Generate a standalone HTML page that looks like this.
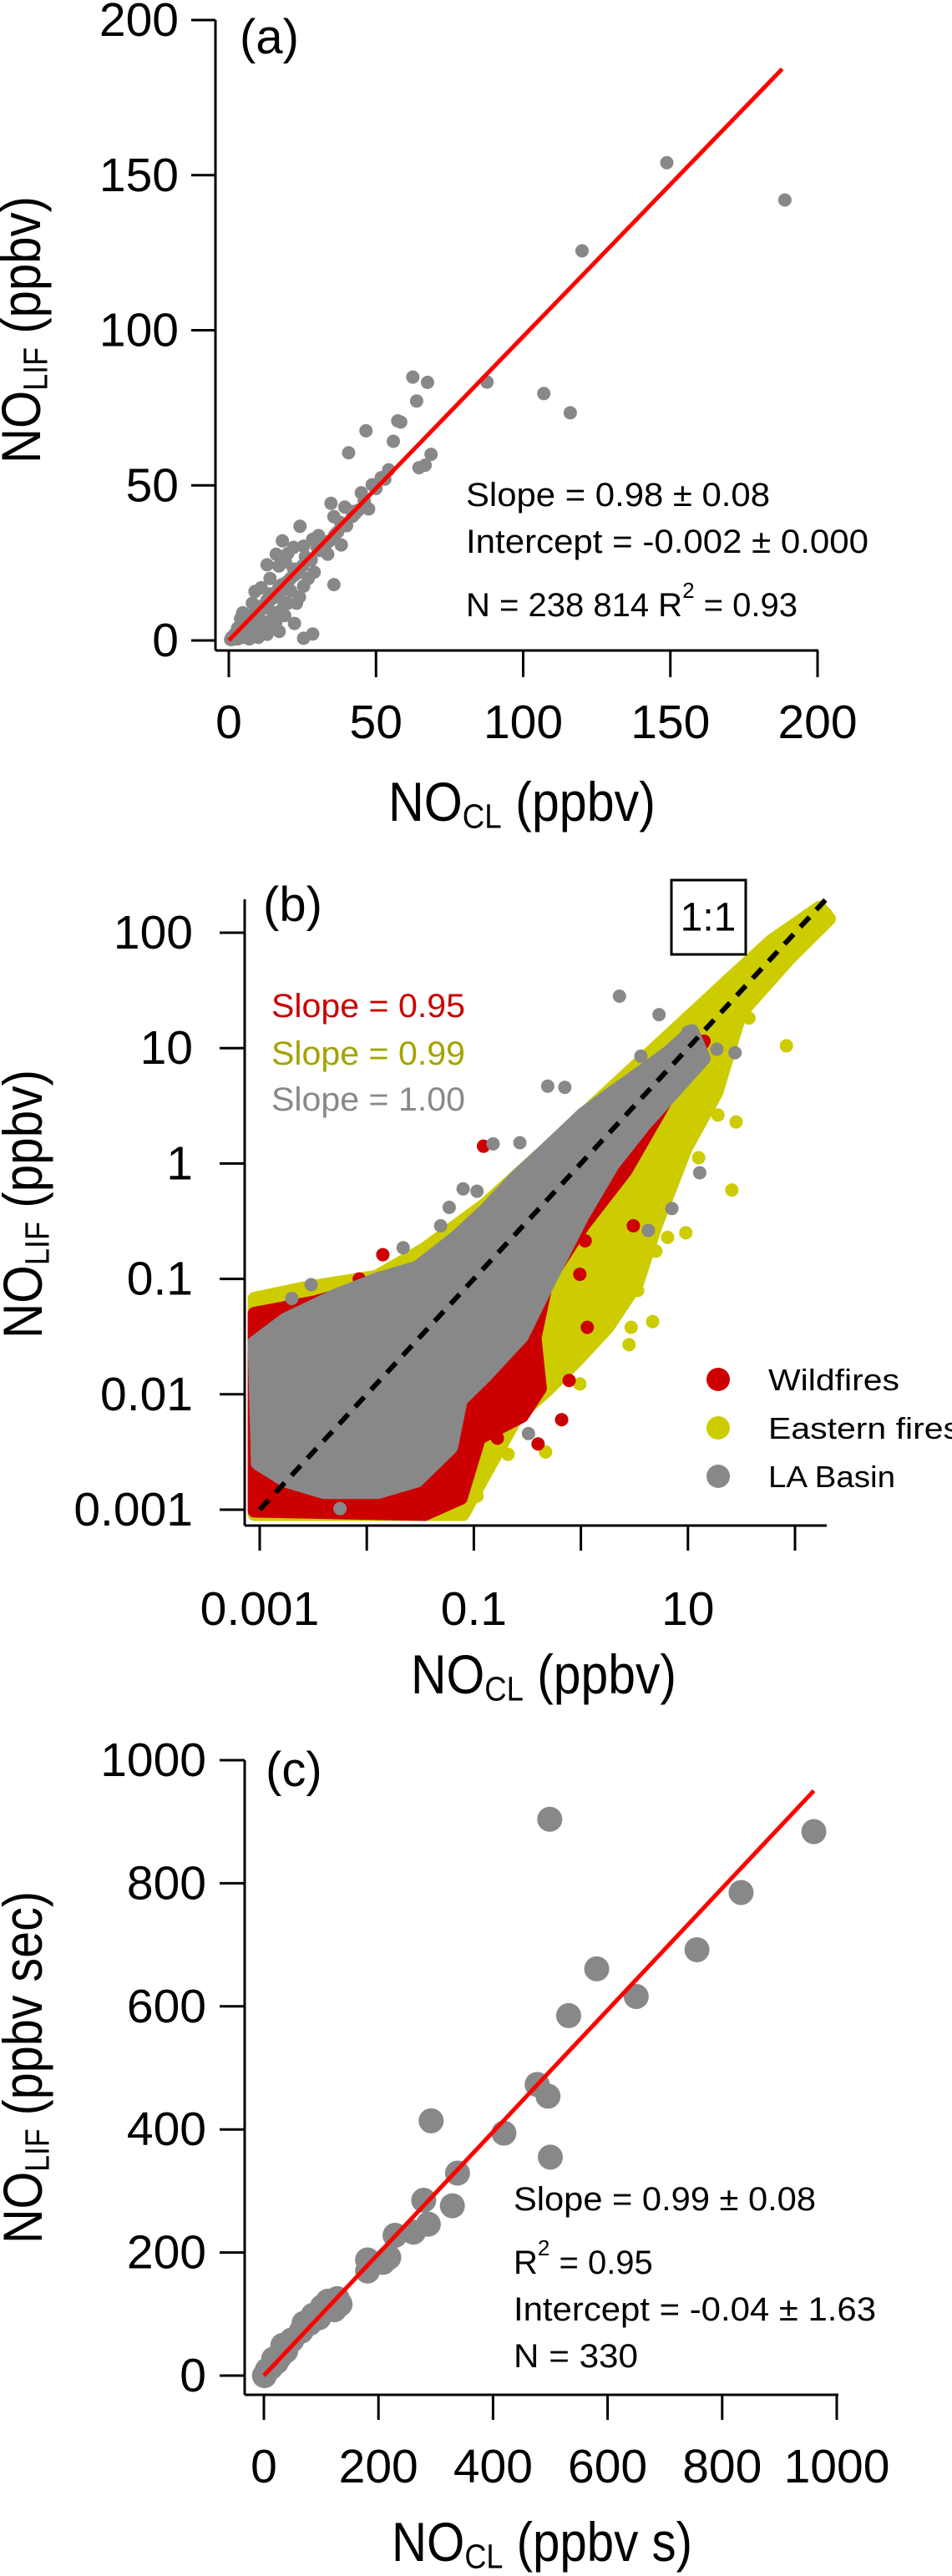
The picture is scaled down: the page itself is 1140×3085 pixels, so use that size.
<!DOCTYPE html>
<html><head><meta charset="utf-8"><style>
html,body{margin:0;padding:0;background:#fff}
svg{display:block}
text{font-family:"Liberation Sans",sans-serif;fill:#000}
</style></head><body>
<svg id="fig" width="1140" height="3085" viewBox="0 0 1140 3085" xmlns="http://www.w3.org/2000/svg"></svg>
<script>
// ---------- Panel (a) data ----------
const aTicks = [0, 50, 100, 150, 200];
const aX = [148.8,188.9,120,87.7,107,116,62.5,67.5,63.8,57.4,58.4,55.9,46.6,40.7,68.7,64.6,66.7,54.3,51.8,48.7,45,47.5,34.7,35.7,39.4,42,24.2,18.2,35.7,38.2,33.6,25.4,28.5,30.5,16.1,13,19.2,22.3,25.4,17.1,22.3,17.1,25.4,28.5,8.9,4.7,10.9,6.8,2.7,0.6,2,3,5,6,8,10,12,14,16,18,20,22,24,26,28,30,32,6,9,12,15,19,4,8,11,14,17,20,22,13,10,7,5,3,27,29,36,38,42,44,24,19,16,1,1.5,3.5,9,11,21,23,
 1,2,3,4,5,6,7,8,9,10,11,12,13,14,15,16,17,18,19,20,21,23,25,27,2,4,6,8,10,12,14,16,18,20,3,5,7,9,11,13,15,17,1,3,5,7,9,11,13,15,31,33,34,37,40,43,46,50,53];
const aY = [154,142,125.6,83.3,79.6,73.4,84.9,83.2,77.2,70.8,70.4,64.2,67.6,60.5,60,55.7,56.5,55,52.5,50.2,47.6,42.4,44.2,39.9,43,41.6,36.8,32.1,18,30.8,27.8,30.4,32.6,33.8,27.8,24.4,25.3,21,17.5,14.1,5.5,2.9,0.7,2.1,15.8,8.9,10.7,3.8,1.2,0.3,2,4,5,8,7,10,11,15,14,18,19,23,22,27,26,30,31,3,5,6,9,12,7,12,17,20,24,28,30,2,1,0.5,1,0.5,20,22,34,38,40,42,14,8,6,1,0.5,2,9,4,16,12,
 0.5,1.5,2.5,3,4,5,6,7,8,9,10,11,12,13,14,15,16,17,18,19,20,22,24,26,0.5,1,2,3,4,5,6,8,10,12,3,5,7,9,11,13,15,17,0.3,1,1.5,2,2.5,3,4,5,29,31,32,35,37,41,45,49,52];
const aFit = {slope:0.98, x0:0, x1:188};
// ---------- Panel (b) data (log10 of ppbv) ----------
const bTicksY = [100,10,1,0.1,0.01,0.001];
const bTicksX = [0.001,0.01,0.1,1,10,100];
const bTickLabelsX = ["0.001","","0.1","","10",""];
const yellowCloudLX=[-3.05,-2.59,-1.91,-1.46,-0.89,-0.32,0.25,0.81,1.38,1.78,2.23,2.32,1.95,1.49,1.27,0.98,0.70,0.53,0.25,-0.04,-0.3,-0.6,-0.9,-1.1,-3.05];
const yellowCloudLY=[-1.17,-1.08,-0.98,-0.74,-0.35,0.13,0.62,1.10,1.59,1.93,2.22,2.12,1.78,1.30,0.62,0.13,-0.54,-1.03,-1.42,-1.71,-1.95,-2.2,-2.7,-3.04,-3.04];
const redCloudLX=[-3.05,-3.05,-1.46,-1.12,-0.95,-0.55,-0.38,-0.43,-0.32,0.02,0.42,0.81,1.15,0.93,0.53,-0.04,-1.46,-2.48];
const redCloudLY=[-1.3,-3.01,-3.04,-2.9,-2.38,-2.19,-1.95,-1.51,-1.03,-0.54,-0.06,0.57,1.06,1.01,0.72,0.13,-0.93,-1.2];
const grayCloudLX=[-3.05,-2.76,-2.31,-1.9,-1.53,-1.17,-0.89,-0.60,-0.32,0.02,0.30,0.59,0.81,1.04,1.15,0.87,0.59,0.30,0.02,-0.3,-0.55,-0.9,-1.12,-1.21,-1.53,-1.9,-2.4,-2.76,-3.02];
const grayCloudLY=[-1.55,-1.35,-1.15,-1.0,-0.9,-0.64,-0.40,-0.11,0.13,0.43,0.62,0.81,0.96,1.15,0.91,0.62,0.33,-0.01,-0.45,-1.03,-1.5,-1.85,-2.05,-2.46,-2.75,-2.85,-2.85,-2.75,-2.6];
const yellowLX=[1.92,1.41,1.45,1.28,1.07,1.10,0.98,0.81,0.70,0.53,0.67,0.47,0.45,-0.01,-0.33,-0.68,-0.97,-2.98,-2.80,1.57,1.81,2.12,2.29];
const yellowLY=[1.02,-0.23,0.36,0.42,0.33,0.05,-0.60,-0.64,-0.76,-1.10,-1.37,-1.42,-1.57,-1.91,-2.50,-2.52,-2.88,-1.19,-1.14,1.26,1.92,2.15,2.16];
const redLX=[-0.91,-1.85,-2.07,0.49,0.06,-0.11,-0.18,-0.40,-0.78,-1.12,-0.01,0.04];
const redLY=[0.15,-0.79,-1.00,-0.54,-1.42,-1.88,-2.22,-2.43,-2.38,-2.81,-0.96,-0.67];
const grayLX=[0.36,0.73,-0.31,-0.15,-0.82,-0.57,-1.10,-0.97,-1.23,-1.31,-1.66,-2.52,-2.70,1.11,0.85,0.63,1.44,0.56,-0.49,-2.25,1.0,1.27];
const grayLY=[1.45,1.29,0.67,0.66,0.17,0.18,-0.22,-0.24,-0.38,-0.54,-0.73,-1.05,-1.17,-0.08,-0.39,-0.58,0.96,0.93,-2.34,-2.99,1.14,0.99];
const bOneToOne=[0.001,200];
// ---------- Panel (c) data ----------
const cTicks=[0,200,400,600,800,1000];
const cX=[499,960,833,756,581,650,532,477,496,419,500,292,338,329,279,287,261,229,218,181,208,181,128,112,102,86,70,49,33,17,6,1,133,96,65,38,22,12,123,80,28];
const cY=[904,884,785,692,661,616,585,473,454,394,355,414,329,276,285,246,233,228,192,188,184,170,125,121,112,98,85,58,49,27,9,0,116,94,72,40,22,13,107,85,31];
const cFit={slope:0.99, x0:0, x1:960};

const NS="http://www.w3.org/2000/svg";
const svg=document.getElementById('fig');
function mk(tag,attrs,parent){const e=document.createElementNS(NS,tag);for(const k in attrs)e.setAttribute(k,attrs[k]);(parent||svg).appendChild(e);return e;}
function txt(s,x,y,size,attrs,parent){const t=mk('text',Object.assign({x:x,y:y,'font-size':size},attrs||{}),parent);t.textContent=s;return t;}
function axisTitle(x,y,main,sub,rest,size,rot,len,parent){
  const t=mk('text',{x:x,y:y,'font-size':size,'text-anchor':'middle','dominant-baseline':'middle',transform:rot?`rotate(-90 ${x} ${y})`:'',textLength:len,lengthAdjust:'spacingAndGlyphs'},parent);
  const a=mk('tspan',{},t);a.textContent=main;
  const b=mk('tspan',{'font-size':size*0.62,dy:size*0.22},t);b.textContent=sub;
  const c=mk('tspan',{dy:-size*0.22},t);c.textContent=rest;
  return t;
}

// ================= Panel A =================
const gA=mk('g',{});

const axA={x0:274,x1:979,y0:767,y1:24};
const sxA=v=>axA.x0+(v-0)/200*(axA.x1-axA.x0);
const syA=v=>axA.y0+(v-0)/200*(axA.y1-axA.y0);
const ptsA=mk('g',{fill:'#888888'},gA);
for(let i=0;i<aX.length;i++){const c=mk('circle',{cx:sxA(aX[i]),cy:syA(aY[i]),r:8},ptsA);

}
const fa=mk('line',{x1:sxA(aFit.x0),y1:syA(aFit.x0*aFit.slope),x2:sxA(aFit.x1),y2:syA(aFit.x1*aFit.slope),stroke:'#ff0000','stroke-width':5},gA);

let ya=mk('line',{x1:258,y1:24,x2:258,y2:779,stroke:'#000','stroke-width':3},gA);
let xa=mk('line',{x1:258,y1:779,x2:980,y2:779,stroke:'#000','stroke-width':3},gA);
aTicks.forEach(v=>{
  mk('line',{x1:229,y1:syA(v),x2:258,y2:syA(v),stroke:'#000','stroke-width':3},gA);
  const ty=txt(String(v),214,syA(v),57,{'text-anchor':'end','dominant-baseline':'central'},gA);
  
  mk('line',{x1:sxA(v),y1:779,x2:sxA(v),y2:811,stroke:'#000','stroke-width':3},gA);
  const tx=txt(String(v),sxA(v),865,57,{'text-anchor':'middle','dominant-baseline':'central'},gA);
  
});
let la=txt('(a)',287,64,58,{},gA);
let s1=txt('Slope = 0.98 ± 0.08',558,606,40,{textLength:364,lengthAdjust:'spacingAndGlyphs'},gA);
let s2=txt('Intercept = -0.002 ± 0.000',558,662,40,{textLength:482,lengthAdjust:'spacingAndGlyphs'},gA);
let s3=mk('text',{x:558,y:738,'font-size':40},gA);
s3.innerHTML='N =  238 814  R<tspan font-size="26" dy="-22">2</tspan><tspan dy="22"> = 0.93</tspan>';
let xta=axisTitle(625,966,'NO','CL',' (ppbv)',66,false,320,gA);
let yta=axisTitle(31,395,'NO','LIF',' (ppbv)',66,true,320,gA);

// ================= Panel B =================
const gB=mk('g',{});

const sxB=v=>311+(Math.log10(v)+3)*128.2;
const syB=v=>1808-(Math.log10(v)+3)*138.2;
const lxB=l=>sxB(Math.pow(10,l));
const lyB=l=>syB(Math.pow(10,l));
function cloud(LX,LY,col,name){
  const p=LX.map((l,i)=>lxB(l)+','+lyB(LY[i])).join(' ');
  const e=mk('polygon',{points:p,fill:col,stroke:col,'stroke-width':16,'stroke-linejoin':'round'},gB);
  
  
}
function dots(LX,LY,col,name){
  const g=mk('g',{fill:col},gB);
  
  
  for(let i=0;i<LX.length;i++){const c=mk('circle',{cx:lxB(LX[i]),cy:lyB(LY[i]),r:8},g);
  
  }
}
cloud(yellowCloudLX,yellowCloudLY,'#cccc00','eastern-fires-cloud');
dots(yellowLX,yellowLY,'#cccc00','eastern-fires-points');
cloud(redCloudLX,redCloudLY,'#cc0000','wildfires-cloud');
dots(redLX,redLY,'#cc0000','wildfires-points');
cloud(grayCloudLX,grayCloudLY,'#888888','la-basin-cloud');
dots(grayLX,grayLY,'#888888','la-basin-points');
let oo=mk('line',{x1:sxB(bOneToOne[0]),y1:syB(bOneToOne[0]),x2:sxB(bOneToOne[1]),y2:syB(bOneToOne[1]),stroke:'#000','stroke-width':6,'stroke-dasharray':'16 12'},gB);

let yb=mk('line',{x1:293,y1:1077,x2:293,y2:1827,stroke:'#000','stroke-width':3},gB);
let xb=mk('line',{x1:293,y1:1827,x2:990,y2:1827,stroke:'#000','stroke-width':3},gB);
bTicksY.forEach(v=>{
  mk('line',{x1:263,y1:syB(v),x2:293,y2:syB(v),stroke:'#000','stroke-width':3},gB);
  const t=txt(String(v),231,syB(v),57,{'text-anchor':'end','dominant-baseline':'central'},gB);
  
});
bTicksX.forEach((v,i)=>{
  mk('line',{x1:sxB(v),y1:1827,x2:sxB(v),y2:1857,stroke:'#000','stroke-width':3},gB);
  if(bTickLabelsX[i]){const t=txt(bTickLabelsX[i],sxB(v),1927,57,{'text-anchor':'middle','dominant-baseline':'central'},gB);
  }
});
let lb=txt('(b)',315,1103,58,{},gB);
let bx=mk('rect',{x:804,y:1054,width:89,height:89,fill:'#fff',stroke:'#000','stroke-width':3},gB);
let bt=txt('1:1',848,1099,48,{'text-anchor':'middle','dominant-baseline':'central'},gB);
let sr=txt('Slope = 0.95',325,1218,40,{style:'fill:#cc0000',textLength:232,lengthAdjust:'spacingAndGlyphs'},gB);
let sy=txt('Slope = 0.99',325,1275,40,{style:'fill:#a3a300',textLength:232,lengthAdjust:'spacingAndGlyphs'},gB);
let sg=txt('Slope = 1.00',325,1330,40,{style:'fill:#888888',textLength:232,lengthAdjust:'spacingAndGlyphs'},gB);
[['#cc0000','Wildfires',1652,157],['#cccc00','Eastern fires',1710,230],['#888888','LA Basin',1768,152]].forEach(d=>{
  const g=mk('g',{},gB);
  
  
  mk('circle',{cx:860,cy:d[2],r:14,fill:d[0]},g);
  txt(d[1],920,d[2]+13,36,{textLength:d[3],lengthAdjust:'spacingAndGlyphs'},g);
});
let xtb=axisTitle(651,2011,'NO','CL',' (ppbv)',66,false,318,gB);
let ytb=axisTitle(33,1442,'NO','LIF',' (ppbv)',66,true,322,gB);

// ================= Panel C =================
const gC=mk('g',{});

const sxC=v=>316+v/1000*(1002-316);
const syC=v=>2845-v/1000*(2845-2108);
const ptsC=mk('g',{fill:'#888888'},gC);
for(let i=0;i<cX.length;i++){const c=mk('circle',{cx:sxC(cX[i]),cy:syC(cY[i]),r:15},ptsC);

}
const fc=mk('line',{x1:sxC(cFit.x0),y1:syC(cFit.x0*cFit.slope),x2:sxC(cFit.x1),y2:syC(cFit.x1*cFit.slope),stroke:'#ff0000','stroke-width':5},gC);

let yc=mk('line',{x1:293,y1:2108,x2:293,y2:2868,stroke:'#000','stroke-width':3},gC);
let xc=mk('line',{x1:293,y1:2868,x2:1004,y2:2868,stroke:'#000','stroke-width':3},gC);
cTicks.forEach(v=>{
  mk('line',{x1:263,y1:syC(v),x2:293,y2:syC(v),stroke:'#000','stroke-width':3},gC);
  const ty=txt(String(v),247,syC(v),57,{'text-anchor':'end','dominant-baseline':'central'},gC);
  
  mk('line',{x1:sxC(v),y1:2868,x2:sxC(v),y2:2898,stroke:'#000','stroke-width':3},gC);
  const tx=txt(String(v),sxC(v),2954,57,{'text-anchor':'middle','dominant-baseline':'central'},gC);
  
});
let lc=txt('(c)',318,2139,58,{},gC);
let c1=txt('Slope = 0.99 ± 0.08',615,2647,40,{textLength:362,lengthAdjust:'spacingAndGlyphs'},gC);
let c2=mk('text',{x:615,y:2723,'font-size':40},gC);
c2.innerHTML='R<tspan font-size="26" dy="-22">2</tspan><tspan dy="22"> = 0.95</tspan>';
let c3=txt('Intercept = -0.04 ± 1.63',615,2779,40,{textLength:434,lengthAdjust:'spacingAndGlyphs'},gC);
let c4=txt('N = 330',615,2835,40,{textLength:149,lengthAdjust:'spacingAndGlyphs'},gC);
let xtc=axisTitle(649,3050,'NO','CL',' (ppbv s)',66,false,360,gC);
let ytc=axisTitle(33,2476,'NO','LIF',' (ppbv sec)',66,true,422,gC);
</script>
</body></html>
